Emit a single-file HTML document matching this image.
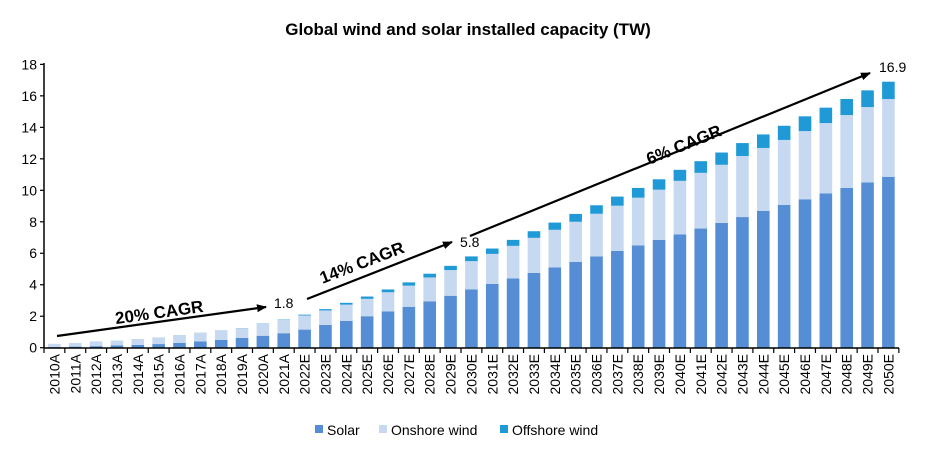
<!DOCTYPE html>
<html><head><meta charset="utf-8"><style>
html,body{margin:0;padding:0;background:#fff;}
svg{display:block;font-family:"Liberation Sans",Arial,sans-serif;}
</style></head><body>
<svg id="c" width="936" height="461" viewBox="0 0 936 461" xmlns="http://www.w3.org/2000/svg">
<text x="468" y="35" text-anchor="middle" font-size="17" font-weight="bold" fill="#000">Global wind and solar installed capacity (TW)</text>
<g id="bars"></g>
<line x1="44" y1="63" x2="44" y2="348" stroke="#000" stroke-width="1.5"/>
<line x1="44" y1="348" x2="899" y2="348" stroke="#000" stroke-width="1.5"/>
<g id="ticks" stroke="#000" stroke-width="1.2"></g>
<g font-size="14" text-anchor="end" fill="#000">
<text x="37" y="352.7">0</text><text x="37" y="321.2">2</text><text x="37" y="289.7">4</text><text x="37" y="258.2">6</text><text x="37" y="226.8">8</text><text x="37" y="195.3">10</text><text x="37" y="163.8">12</text><text x="37" y="132.3">14</text><text x="37" y="100.8">16</text><text x="37" y="69.3">18</text>
</g>
<g font-size="14" text-anchor="end" fill="#000">
<text transform="translate(59.4,354) rotate(-90)">2010A</text>
<text transform="translate(80.25,354) rotate(-90)">2011A</text>
<text transform="translate(101.1,354) rotate(-90)">2012A</text>
<text transform="translate(121.95,354) rotate(-90)">2013A</text>
<text transform="translate(142.8,354) rotate(-90)">2014A</text>
<text transform="translate(163.65,354) rotate(-90)">2015A</text>
<text transform="translate(184.5,354) rotate(-90)">2016A</text>
<text transform="translate(205.35,354) rotate(-90)">2017A</text>
<text transform="translate(226.2,354) rotate(-90)">2018A</text>
<text transform="translate(247.05,354) rotate(-90)">2019A</text>
<text transform="translate(267.9,354) rotate(-90)">2020A</text>
<text transform="translate(288.75,354) rotate(-90)">2021A</text>
<text transform="translate(309.6,354) rotate(-90)">2022E</text>
<text transform="translate(330.45,354) rotate(-90)">2023E</text>
<text transform="translate(351.3,354) rotate(-90)">2024E</text>
<text transform="translate(372.15,354) rotate(-90)">2025E</text>
<text transform="translate(393,354) rotate(-90)">2026E</text>
<text transform="translate(413.85,354) rotate(-90)">2027E</text>
<text transform="translate(434.7,354) rotate(-90)">2028E</text>
<text transform="translate(455.55,354) rotate(-90)">2029E</text>
<text transform="translate(476.4,354) rotate(-90)">2030E</text>
<text transform="translate(497.25,354) rotate(-90)">2031E</text>
<text transform="translate(518.1,354) rotate(-90)">2032E</text>
<text transform="translate(538.95,354) rotate(-90)">2033E</text>
<text transform="translate(559.8,354) rotate(-90)">2034E</text>
<text transform="translate(580.65,354) rotate(-90)">2035E</text>
<text transform="translate(601.5,354) rotate(-90)">2036E</text>
<text transform="translate(622.35,354) rotate(-90)">2037E</text>
<text transform="translate(643.2,354) rotate(-90)">2038E</text>
<text transform="translate(664.05,354) rotate(-90)">2039E</text>
<text transform="translate(684.9,354) rotate(-90)">2040E</text>
<text transform="translate(705.75,354) rotate(-90)">2041E</text>
<text transform="translate(726.6,354) rotate(-90)">2042E</text>
<text transform="translate(747.45,354) rotate(-90)">2043E</text>
<text transform="translate(768.3,354) rotate(-90)">2044E</text>
<text transform="translate(789.15,354) rotate(-90)">2045E</text>
<text transform="translate(810,354) rotate(-90)">2046E</text>
<text transform="translate(830.85,354) rotate(-90)">2047E</text>
<text transform="translate(851.7,354) rotate(-90)">2048E</text>
<text transform="translate(872.55,354) rotate(-90)">2049E</text>
<text transform="translate(893.4,354) rotate(-90)">2050E</text>
</g>
<defs><marker id="ah" markerWidth="10" markerHeight="8" refX="9" refY="4" orient="auto" markerUnits="userSpaceOnUse"><path d="M0,0 L10,4 L0,8 z" fill="#000"/></marker></defs>
<g stroke="#000" stroke-width="2.2" fill="none">
<line x1="57" y1="336" x2="266" y2="307" marker-end="url(#ah)"/>
<line x1="307" y1="299" x2="452" y2="242" marker-end="url(#ah)"/>
<line x1="470" y1="236" x2="870" y2="73" marker-end="url(#ah)"/>
</g>
<g font-size="17" font-weight="bold" fill="#000" text-anchor="middle">
<text transform="translate(160,318) rotate(-8)">20% CAGR</text>
<text transform="translate(364,268) rotate(-21)">14% CAGR</text>
<text transform="translate(686,150) rotate(-22)">6% CAGR</text>
</g>
<g font-size="14" fill="#000">
<text x="274" y="308">1.8</text>
<text x="460" y="247">5.8</text>
<text x="879" y="72">16.9</text>
</g>
<g font-size="14" fill="#000">
<rect x="315" y="425" width="8" height="8" fill="#558ed5"/><text x="327" y="435">Solar</text>
<rect x="379" y="425" width="8" height="8" fill="#c6d9f1"/><text x="391" y="435">Onshore wind</text>
<rect x="500" y="425" width="8" height="8" fill="#1f9ad6"/><text x="512" y="435">Offshore wind</text>
</g>
</svg>
<script>
var tot=[0.25,0.3,0.4,0.45,0.55,0.65,0.8,0.95,1.1,1.25,1.55,1.8,2.1,2.45,2.85,3.25,3.7,4.15,4.7,5.2,5.8,6.3,6.85,7.4,7.95,8.5,9.05,9.6,10.15,10.7,11.3,11.85,12.4,13.0,13.55,14.1,14.7,15.25,15.8,16.35,16.9];
var sol=[0.04,0.07,0.1,0.14,0.18,0.23,0.3,0.4,0.5,0.62,0.76,0.92,1.15,1.45,1.7,2.0,2.3,2.6,2.95,3.3,3.7,4.05,4.4,4.75,5.1,5.45,5.8,6.15,6.5,6.85,7.2,7.57,7.93,8.3,8.7,9.07,9.43,9.8,10.15,10.5,10.86];
var y0=347.7,s=15.74,g=document.getElementById('bars'),t=document.getElementById('ticks'),h='';
function r(x,a,b,c){return '<rect x="'+x+'" y="'+(y0-b*s)+'" width="12.6" height="'+((b-a)*s)+'" fill="'+c+'"/>';}
for(var i=0;i<41;i++){
 var off=i<11?0.01*i/10:(i<=20?0.02+0.28*(i-11)/9:0.3+0.8*(i-20)/20);
 var x=48.1+20.85*i;
 h+=r(x,0,sol[i],'#558ed5')+r(x,sol[i],tot[i]-off,'#c6d9f1')+r(x,tot[i]-off,tot[i],'#1f9ad6');
}
g.innerHTML=h;
var th='';
for(var i=0;i<=41;i++){var x=44+20.85*i;th+='<line x1="'+x+'" y1="348" x2="'+x+'" y2="353"/>';}
for(var v=0;v<=18;v+=2){var y=y0-v*s;th+='<line x1="40" y1="'+y+'" x2="44" y2="'+y+'"/>';}
t.innerHTML=th;
</script>
</body></html>
